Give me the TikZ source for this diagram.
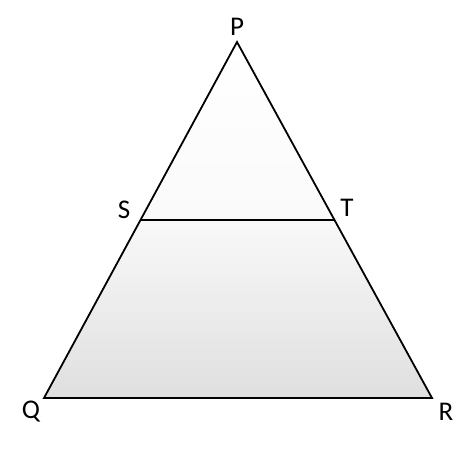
\documentclass[tikz,border=0pt]{standalone}
\usepackage{fontspec}
\setmainfont{Carlito}
\usetikzlibrary{calc}
\begin{document}
\begin{tikzpicture}[x=1pt,y=-1pt,
  lbl/.style={font=\fontsize{27}{30}\selectfont, inner sep=0pt},
  edge/.style={line width=1.8pt, line join=miter}]
\useasboundingbox (0,0) rectangle (474,450);
\coordinate (P) at (237,42);
\coordinate (Q) at (44,398);
\coordinate (R) at (432,398);
\coordinate (S) at ($(P)!0.5!(Q)$);
\coordinate (T) at ($(P)!0.5!(R)$);
\shade[top color=white, bottom color=gray!4] (P) -- (S) -- (T) -- cycle;
\shade[top color=gray!5, bottom color=gray!25] (S) -- (Q) -- (R) -- (T) -- cycle;
\draw[edge] (P) -- (Q) -- (R) -- cycle;
\draw[edge] (S) -- (T);
\node[lbl] (lP) at (237,27) {P};
\node[lbl] (lS) at (124,210) {S};
\node[lbl] (lT) at (347,208) {T};
\node[lbl] (lQ) at (31,412) {Q};
\node[lbl] (lR) at (446,412) {R};
\end{tikzpicture}
\end{document}
